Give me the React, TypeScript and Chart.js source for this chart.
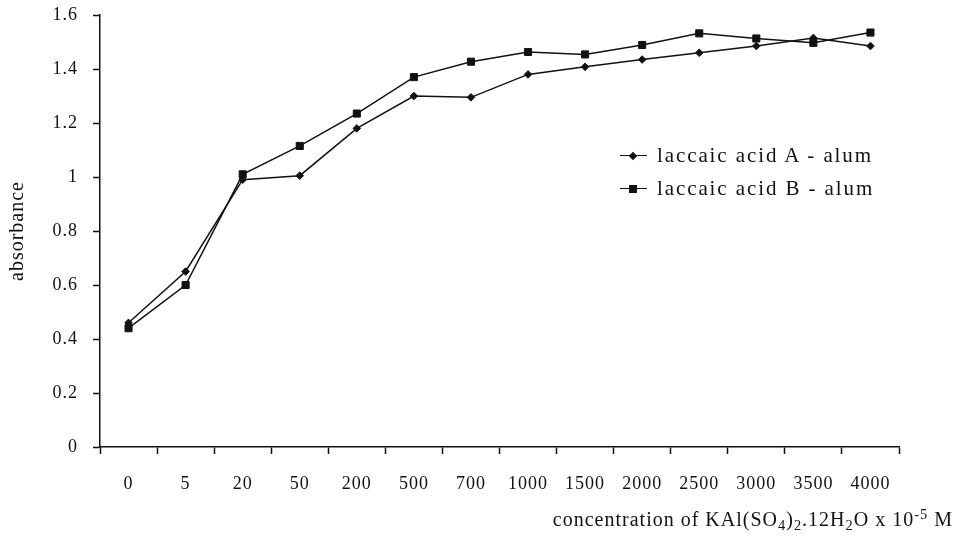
import React, { useEffect, useRef } from "react";
import { Chart, registerables } from "chart.js";

Chart.register(...registerables);

// Alum concentration (x 10^-5 M)
const concentrations = ["0", "5", "20", "50", "200", "500", "700", "1000", "1500", "2000", "2500", "3000", "3500", "4000"];

// Absorbance readings
const acidA = [0.46, 0.65, 0.99, 1.005, 1.18, 1.3, 1.295, 1.38, 1.408, 1.435, 1.46, 1.485, 1.515, 1.485];
const acidB = [0.44, 0.6, 1.01, 1.115, 1.235, 1.37, 1.427, 1.463, 1.454, 1.489, 1.532, 1.513, 1.497, 1.535];

const seriesLabels = ["laccaic acid A - alum", "laccaic acid B - alum"];

const yTicks = { min: 0, max: 1.6, step: 0.2 };

const FONT = "'Liberation Serif', 'Times New Roman', serif";
const INK = "#111";

const spacingPlugin = {
  id: "letterSpacing",
  beforeDraw(chart: any) {
    (chart.ctx as any).letterSpacing = "1px";
  },
};

function LegendMarker({ kind }: { kind: "diamond" | "square" }) {
  const marker =
    kind === "diamond" ? (
      <div
        style={{
          position: "absolute",
          left: 10,
          top: -3.5,
          width: 6,
          height: 6,
          background: INK,
          transform: "rotate(45deg)",
        }}
      />
    ) : (
      <div style={{ position: "absolute", left: 9, top: -4.5, width: 8, height: 8, background: INK }} />
    );
  return (
    <div style={{ position: "relative", width: 27, height: 0, borderTop: `1.5px solid ${INK}` }}>
      {marker}
    </div>
  );
}

export default function App() {
  const canvasRef = useRef<HTMLCanvasElement | null>(null);

  useEffect(() => {
    const canvas = canvasRef.current;
    if (!canvas) return;
    const chart = new Chart(canvas, {
      type: "line",
      data: {
        labels: concentrations,
        datasets: [
          {
            label: seriesLabels[0],
            data: acidA,
            borderColor: INK,
            backgroundColor: INK,
            borderWidth: 1.5,
            pointStyle: "rectRot",
            pointRadius: 3.8,
            pointBorderWidth: 1,
            tension: 0,
          },
          {
            label: seriesLabels[1],
            data: acidB,
            borderColor: INK,
            backgroundColor: INK,
            borderWidth: 1.5,
            pointStyle: "rect",
            pointRadius: 5,
            pointBorderWidth: 1,
            tension: 0,
          },
        ],
      },
      options: {
        responsive: false,
        animation: false,
        layout: { padding: { left: 0, top: 15, right: 63, bottom: 0 } },
        plugins: {
          legend: { display: false },
          tooltip: { enabled: false },
        },
        scales: {
          x: {
            type: "category",
            offset: true,
            grid: {
              offset: true,
              drawOnChartArea: false,
              drawTicks: true,
              tickLength: 7,
              tickWidth: 1.5,
              tickColor: INK,
            },
            border: { display: true, color: INK, width: 1.5 },
            ticks: {
              color: INK,
              font: { family: FONT, size: 18 },
              padding: 19,
              maxRotation: 0,
              autoSkip: false,
            },
            afterFit: (scale: any) => {
              scale.height = 97;
            },
          },
          y: {
            min: yTicks.min,
            max: yTicks.max,
            grid: {
              drawOnChartArea: false,
              drawTicks: true,
              tickLength: 7,
              tickWidth: 1.5,
              tickColor: INK,
            },
            border: { display: true, color: INK, width: 1.5 },
            ticks: {
              stepSize: yTicks.step,
              color: INK,
              font: { family: FONT, size: 18 },
              padding: 15,
              callback: (v: any) => String(parseFloat(Number(v).toFixed(1))),
            },
            title: {
              display: true,
              text: "absorbance",
              color: INK,
              font: { family: FONT, size: 20 },
              padding: { top: 6, bottom: 0 },
            },
            afterFit: (scale: any) => {
              scale.width = 100;
              // keep the plot top tied to the layout padding only
              scale.paddingTop = 0;
              scale.paddingBottom = 0;
            },
          },
        },
      },
      plugins: [spacingPlugin],
    });
    return () => chart.destroy();
  }, []);

  const sub = { fontSize: "0.72em", position: "relative" as const, top: "0.28em" };
  const sup = { fontSize: "0.72em", position: "relative" as const, top: "-0.5em" };

  return (
    <div
      style={{
        position: "fixed",
        left: 0,
        top: 0,
        width: 962,
        height: 544,
        background: "#fff",
        overflow: "hidden",
        fontFamily: FONT,
        color: INK,
      }}
    >
      <canvas ref={canvasRef} width={962} height={544} style={{ display: "block", width: 962, height: 544 }} />

      {/* legend */}
      <div style={{ position: "absolute", left: 620, top: 139 }}>
        {seriesLabels.map((label, i) => (
          <div key={label} style={{ display: "flex", alignItems: "center", height: 33 }}>
            <LegendMarker kind={i === 0 ? "diamond" : "square"} />
            <span style={{ marginLeft: 10, fontSize: 21, letterSpacing: "1.9px", lineHeight: "33px", whiteSpace: "nowrap" }}>
              {label}
            </span>
          </div>
        ))}
      </div>

      {/* x-axis title */}
      <div
        style={{
          position: "absolute",
          right: 9,
          top: 509,
          fontSize: 20,
          lineHeight: "20px",
          letterSpacing: "1px",
          whiteSpace: "nowrap",
        }}
      >
        concentration of KAl(SO<span style={sub}>4</span>)<span style={sub}>2</span>.12H<span style={sub}>2</span>O x 10
        <span style={sup}>-5</span> M
      </div>
    </div>
  );
}
